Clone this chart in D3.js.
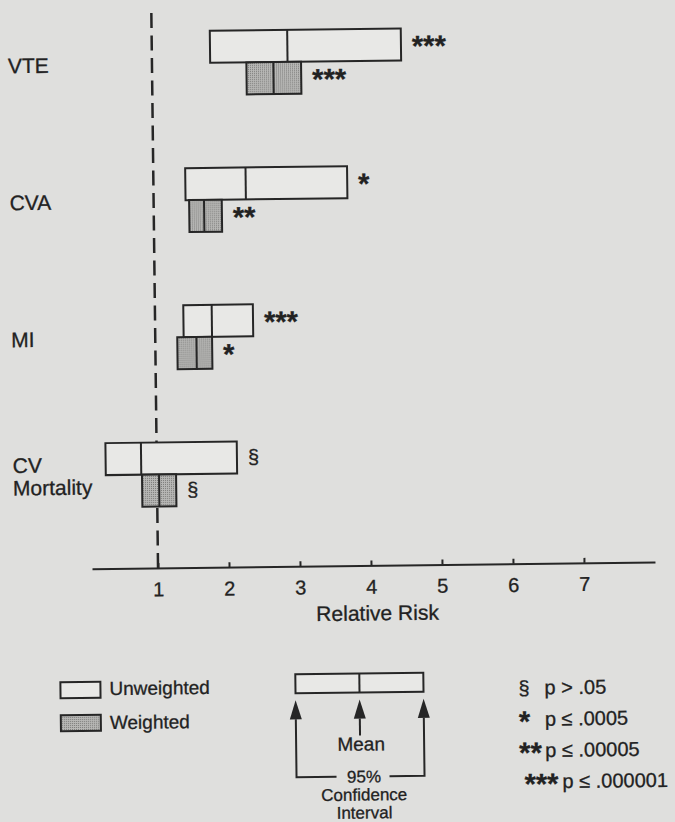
<!DOCTYPE html>
<html>
<head>
<meta charset="utf-8">
<title>Relative Risk</title>
<style>
  body { margin: 0; background: #dfdfdd; }
  svg { display: block; }
  text { font-family: "Liberation Sans", Arial, Helvetica, sans-serif; fill: #222; stroke: #222; stroke-width: 0.3px; }
</style>
</head>
<body>
<script src="https://d3js.org/d3.v7.min.js"></script>
<script>
// values (relative risk)
const categories = ["VTE", "CVA", "MI", "CV Mortality"];
const unweightedLow = [1.82, 1.45, 1.40, 0.28];
const unweightedMean = [2.91, 2.30, 1.80, 0.78];
const unweightedHigh = [4.51, 3.73, 2.38, 2.13];
const weightedLow = [2.33, 1.50, 1.31, 0.79];
const weightedMean = [2.71, 1.71, 1.58, 1.03];
const weightedHigh = [3.10, 1.96, 1.80, 1.27];
const unweightedSig = ["***", "*", "***", "§"];
const weightedSig = ["***", "**", "*", "§"];
const xTicks = [1, 2, 3, 4, 5, 6, 7];
const sigSymbols = ["§", "*", "**", "***"];
const sigLabels = ["p > .05", "p ≤ .0005", "p ≤ .00005", "p ≤ .000001"];
const seriesNames = ["Unweighted", "Weighted"];
const ciLabels = ["95%", "Confidence", "Interval"];

const W = 675, H = 822;
const ink = "#262626";
const paper = "#dfdfdd";
const lightFill = "#e8e8e6";

const svg = d3.select("body").append("svg").attr("width", W).attr("height", H);
svg.append("rect").attr("width", W).attr("height", H).attr("fill", paper);

// stipple for the weighted boxes
const pat = svg.append("defs").append("pattern")
  .attr("id", "stipple").attr("width", 2).attr("height", 2)
  .attr("patternUnits", "userSpaceOnUse");
pat.append("rect").attr("width", 2).attr("height", 2).attr("fill", "#b8b8b6");
pat.append("rect").attr("width", 1).attr("height", 1).attr("fill", "#7a7a78");

// the scanned page is a little tilted
const g = svg.append("g").attr("transform", "rotate(-0.69,158,568)");

const x = d3.scaleLinear().domain([0.07, 8.0]).range([92, 655]);
const y = d3.scalePoint().domain(categories).range([63.5, 474.5]);
const boxH = 32;
const axisY = 568;

// reference line at RR = 1
g.append("line")
  .attr("x1", x(1)).attr("x2", x(1)).attr("y1", 13).attr("y2", axisY + 5)
  .attr("stroke", ink).attr("stroke-width", 2.5)
  .attr("stroke-dasharray", "15,7.5");

// x axis
const ax = g.append("g")
  .attr("transform", "translate(0," + axisY + ")")
  .call(d3.axisBottom(x).tickValues(xTicks).tickFormat(d3.format("d"))
    .tickSizeInner(-5).tickSizeOuter(0).tickPadding(14));
ax.attr("font-family", null).attr("font-size", 20);
ax.select(".domain").attr("stroke", ink).attr("stroke-width", 2);
ax.selectAll(".tick line").attr("stroke", ink).attr("stroke-width", 2);
ax.selectAll(".tick text").attr("fill", ink);

g.append("text")
  .attr("x", 377).attr("y", 623)
  .attr("text-anchor", "middle").attr("font-size", 21)
  .text("Relative Risk");

// category labels
categories.forEach(function(c) {
  const lines = c.split(" ");
  const t = g.append("text").attr("x", 14).attr("font-size", 21);
  lines.forEach(function(l, j) {
    t.append("tspan").attr("x", 14)
      .attr("y", y(c) + 8 - (lines.length - 1) * 11.25 + j * 22.5)
      .text(l);
  });
});

function sigMark(sel, s) {
  if (s === "§") {
    sel.attr("font-size", 20).attr("dy", "0.3em");
  } else {
    sel.attr("font-size", 29).attr("font-weight", "bold").attr("dy", "0.4em");
  }
  sel.text(s);
}

function drawBoxes(low, mean, high, sig, top, fill) {
  categories.forEach(function(c, i) {
    const y0 = top ? y(c) - boxH : y(c);
    g.append("rect")
      .attr("x", x(low[i])).attr("y", y0)
      .attr("width", x(high[i]) - x(low[i])).attr("height", boxH)
      .attr("fill", fill).attr("stroke", ink).attr("stroke-width", 2);
    g.append("line")
      .attr("x1", x(mean[i])).attr("x2", x(mean[i]))
      .attr("y1", y0).attr("y2", y0 + boxH)
      .attr("stroke", ink).attr("stroke-width", 2);
    g.append("text")
      .attr("x", x(high[i]) + 11).attr("y", y0 + boxH / 2)
      .call(sigMark, sig[i]);
  });
}
drawBoxes(unweightedLow, unweightedMean, unweightedHigh, unweightedSig, true, lightFill);
drawBoxes(weightedLow, weightedMean, weightedHigh, weightedSig, false, "url(#stipple)");

// legend: series
seriesNames.forEach(function(name, i) {
  g.append("rect")
    .attr("x", 59).attr("y", 681 + i * 33).attr("width", 40).attr("height", 16)
    .attr("fill", i === 0 ? lightFill : "url(#stipple)")
    .attr("stroke", ink).attr("stroke-width", 2);
  g.append("text")
    .attr("x", 108).attr("y", 694.5 + i * 34).attr("font-size", 19)
    .text(name);
});

// legend: how to read a box
const ci = g.append("g");
const ciL = 294, ciR = 422, ciM = 358, ciTop = 676, ciBot = 695;
ci.append("rect").attr("x", ciL).attr("y", ciTop)
  .attr("width", ciR - ciL).attr("height", ciBot - ciTop)
  .attr("fill", lightFill).attr("stroke", ink).attr("stroke-width", 2);
ci.append("line").attr("x1", ciM).attr("x2", ciM).attr("y1", ciTop).attr("y2", ciBot)
  .attr("stroke", ink).attr("stroke-width", 2);
const tipY = 702, baseY = 721, bracketY = 779;
[ciL, ciM, ciR].forEach(function(ax0) {
  ci.append("path")
    .attr("d", "M" + ax0 + "," + tipY + "L" + (ax0 - 6) + "," + baseY + "L" + (ax0 + 6) + "," + baseY + "Z")
    .attr("fill", ink);
});
ci.append("line").attr("x1", ciM).attr("x2", ciM).attr("y1", baseY).attr("y2", 738)
  .attr("stroke", ink).attr("stroke-width", 2);
ci.append("text").attr("x", ciM + 1).attr("y", 753)
  .attr("text-anchor", "middle").attr("font-size", 19).text("Mean");
ci.append("path")
  .attr("d", "M" + ciL + "," + baseY + "V" + bracketY + "H334")
  .attr("fill", "none").attr("stroke", ink).attr("stroke-width", 2);
ci.append("path")
  .attr("d", "M" + ciR + "," + baseY + "V" + bracketY + "H387")
  .attr("fill", "none").attr("stroke", ink).attr("stroke-width", 2);
ciLabels.forEach(function(l, i) {
  ci.append("text").attr("x", 361.5).attr("y", 785 + i * 18)
    .attr("text-anchor", "middle").attr("font-size", 17).text(l);
});

// legend: significance levels
sigSymbols.forEach(function(s, i) {
  const by = 699 + i * 31.3;
  const sym = g.append("text").attr("x", 517).attr("y", by - 6).call(sigMark, s);
  const w = sym.node().getComputedTextLength();
  let tx = 543;
  if (517 + w + 3 > tx) {
    sym.attr("x", 522);
    tx = 522 + w + 4;
  }
  g.append("text").attr("x", tx).attr("y", by).attr("font-size", 20).text(sigLabels[i]);
});
</script>
</body>
</html>
